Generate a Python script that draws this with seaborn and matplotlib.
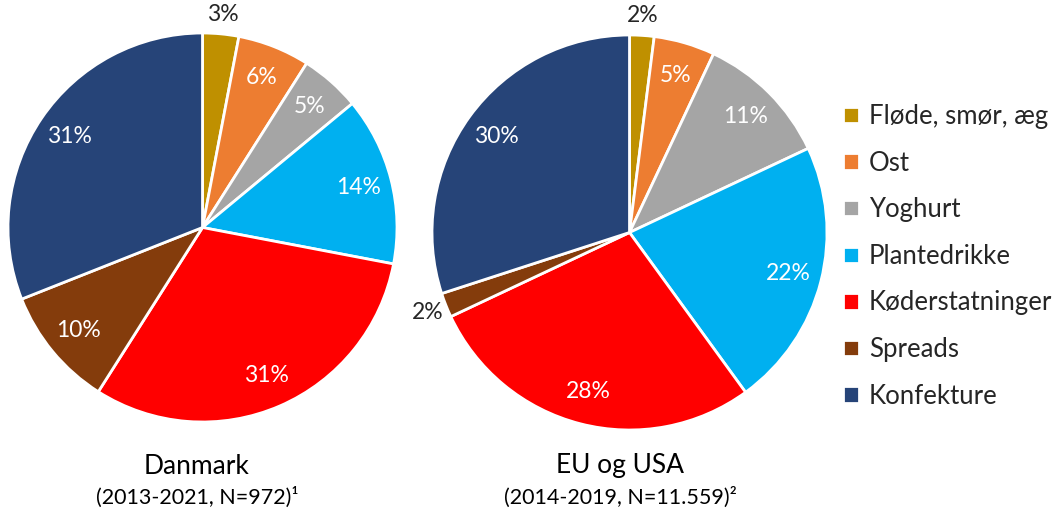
import numpy as np
import matplotlib
matplotlib.use("Agg")
import matplotlib.pyplot as plt
import seaborn as sns

# categories and shares (%)
categories = ["Fløde, smør, æg", "Ost", "Yoghurt", "Plantedrikke",
              "Køderstatninger", "Spreads", "Konfekture"]
dk_values = [3, 6, 5, 14, 31, 10, 31]
eu_values = [2, 5, 11, 22, 28, 2, 30]
colors = ["#BF9000", "#ED7D31", "#A5A5A5", "#00B0F0",
          "#FF0000", "#843C0C", "#264478"]

titles = ["Danmark", "EU og USA"]
subtitles = ["(2013-2021, N=972)\u00b9", "(2014-2019, N=11.559)\u00b2"]

sns.set_theme(style="white")
plt.rcParams['font.family'] = ['Lato', 'DejaVu Sans']
palette = sns.color_palette(colors)

W, H = 1062, 511
fig = plt.figure(figsize=(W / 100, H / 100), dpi=100)

L = 1.15  # axis half-limit in pie radii


def pie_axes(cx, cy, r):
    # cx, cy in pixels from top-left, r pixel radius
    R = r * L
    ax = fig.add_axes([(cx - R) / W, (H - cy - R) / H, 2 * R / W, 2 * R / H])
    ax.set_xlim(-L, L)
    ax.set_ylim(-L, L)
    ax.set_aspect("equal")
    ax.axis("off")
    return ax


def draw_pie(ax, values):
    wedges, _ = ax.pie(values, colors=palette, startangle=90, counterclock=False,
                       wedgeprops=dict(edgecolor="white", linewidth=2))
    ax.set_xlim(-L, L)
    ax.set_ylim(-L, L)
    for w, v in zip(wedges, values):
        ang = np.deg2rad((w.theta1 + w.theta2) / 2)
        if v < 4:
            d, c = 1.1, "#262626"
        else:
            d, c = 0.83, "white"
        ax.text(d * np.cos(ang), d * np.sin(ang), f"{v}%", ha="center",
                va="center", color=c, fontsize=16.5)
    return wedges


ax1 = pie_axes(202.5, 227.5, 194.5)
wedges = draw_pie(ax1, dk_values)
ax2 = pie_axes(629.5, 232.5, 197.5)
draw_pie(ax2, eu_values)

# titles under the pies
for x, t, s in [(197, titles[0], subtitles[0]), (620, titles[1], subtitles[1])]:
    fig.text(x / W, 1 - 466 / H, t, ha="center", va="center", fontsize=19, color="black")
    fig.text(x / W, 1 - 497 / H, s, ha="center", va="center", fontsize=15.5, color="black")

fig.legend(wedges, categories, loc="upper left", bbox_to_anchor=(820 / W, 1 - 81 / H),
           frameon=False, fontsize=18.5, handlelength=0.6, handleheight=0.6,
           handletextpad=0.4, labelspacing=0.84)

plt.savefig("out.png", dpi=100)
